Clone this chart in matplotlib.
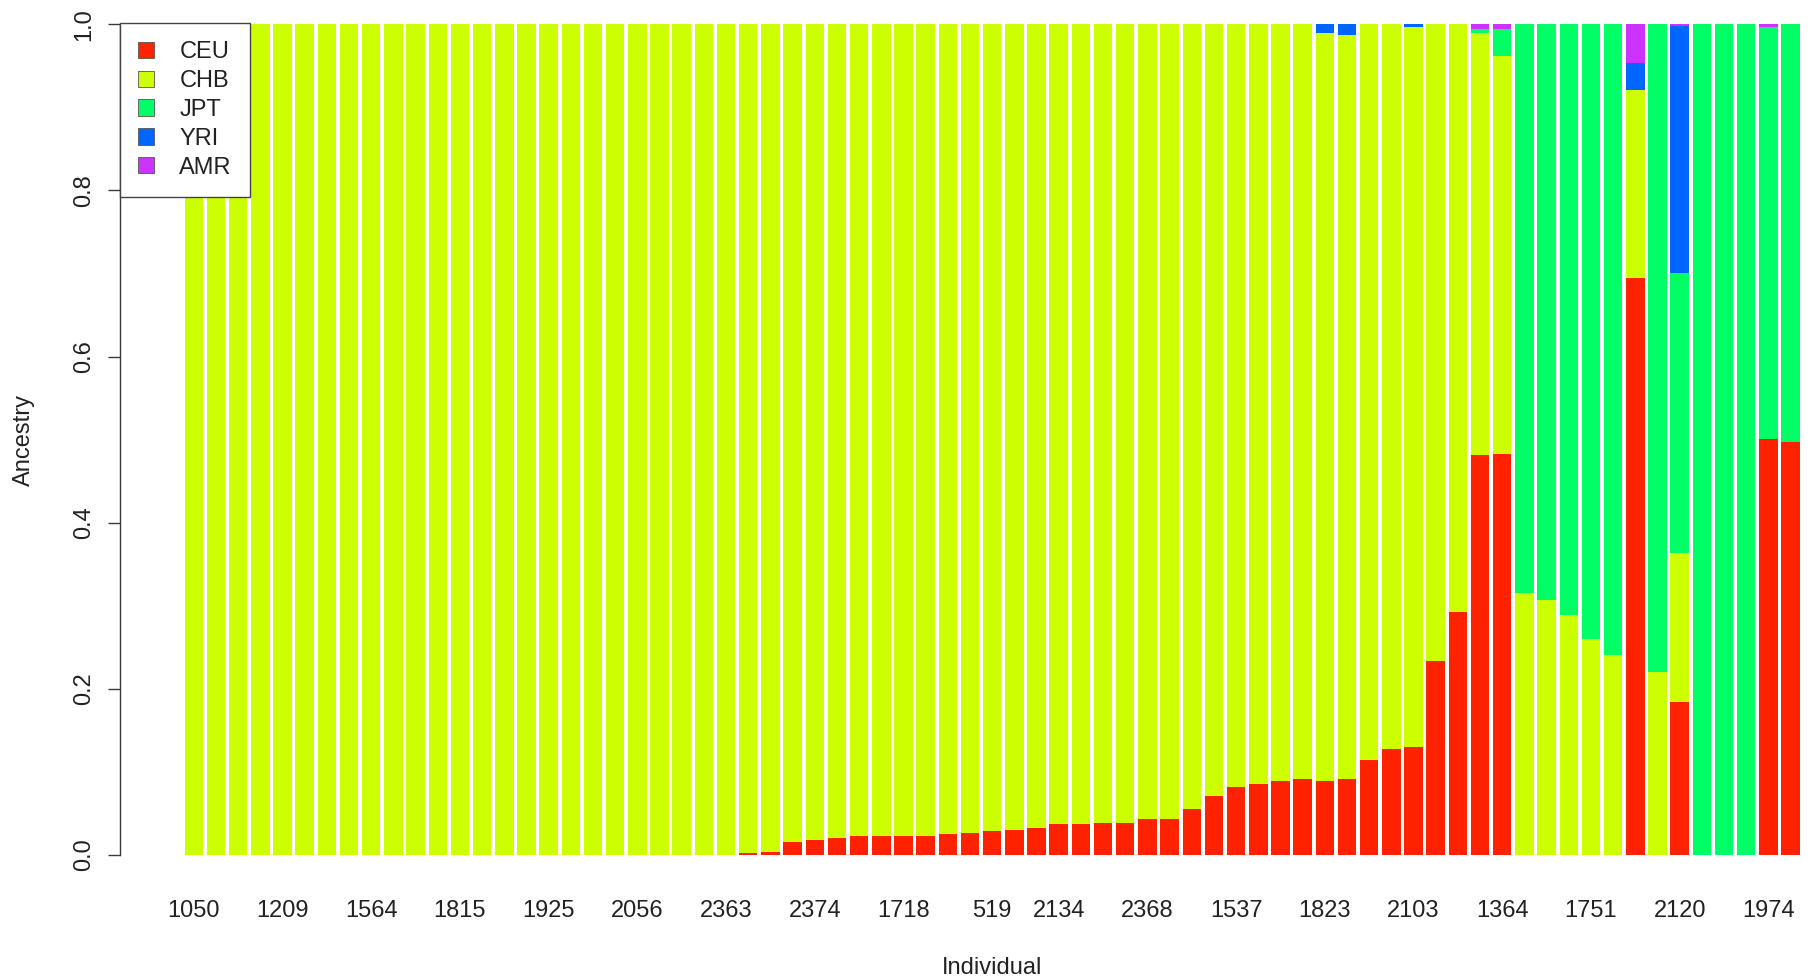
import matplotlib
matplotlib.use("Agg")
import matplotlib.pyplot as plt
from matplotlib.patches import Patch
import numpy as np

plt.rcParams["font.family"] = ["Liberation Sans", "DejaVu Sans"]

# Admixture proportions per individual (73 individuals, sorted as in the run)
# Only the IDs that fit on the axis are printed; the rest stay blank.
individuals = [
    "1050", "", "", "", "1209", "", "", "", "1564", "",
    "", "", "1815", "", "", "", "1925", "", "", "",
    "2056", "", "", "", "2363", "", "", "", "2374", "",
    "", "", "1718", "", "", "", "519", "", "", "2134",
    "", "", "", "2368", "", "", "", "1537", "", "",
    "", "1823", "", "", "", "2103", "", "", "", "1364",
    "", "", "", "1751", "", "", "", "2120", "", "",
    "", "1974", "",
]

ceu = [
    0, 0, 0, 0, 0, 0, 0, 0, 0, 0,
    0, 0, 0, 0, 0, 0, 0, 0, 0, 0,
    0, 0, 0, 0, 0, 0.002, 0.004, 0.016, 0.018, 0.021,
    0.023, 0.023, 0.023, 0.023, 0.025, 0.027, 0.029, 0.030, 0.032, 0.037,
    0.037, 0.039, 0.039, 0.043, 0.043, 0.055, 0.071, 0.082, 0.085, 0.089,
    0.092, 0.089, 0.092, 0.114, 0.128, 0.130, 0.233, 0.292, 0.481, 0.483,
    0, 0, 0, 0, 0, 0.695, 0, 0.184, 0, 0,
    0, 0.501, 0.497,
]

chb = [
    1, 1, 1, 1, 1, 1, 1, 1, 1, 1,
    1, 1, 1, 1, 1, 1, 1, 1, 1, 1,
    1, 1, 1, 1, 1, 0.998, 0.996, 0.984, 0.982, 0.979,
    0.977, 0.977, 0.977, 0.977, 0.975, 0.973, 0.971, 0.970, 0.968, 0.963,
    0.963, 0.961, 0.961, 0.957, 0.957, 0.945, 0.929, 0.918, 0.915, 0.911,
    0.908, 0.901, 0.895, 0.886, 0.872, 0.867, 0.767, 0.708, 0.509, 0.479,
    0.315, 0.307, 0.289, 0.260, 0.241, 0.226, 0.220, 0.180, 0, 0,
    0, 0, 0,
]

jpt = [
    0, 0, 0, 0, 0, 0, 0, 0, 0, 0,
    0, 0, 0, 0, 0, 0, 0, 0, 0, 0,
    0, 0, 0, 0, 0, 0, 0, 0, 0, 0,
    0, 0, 0, 0, 0, 0, 0, 0, 0, 0,
    0, 0, 0, 0, 0, 0, 0, 0, 0, 0,
    0, 0, 0, 0, 0, 0, 0, 0, 0.004, 0.032,
    0.685, 0.693, 0.711, 0.740, 0.759, 0, 0.780, 0.336, 1, 1,
    1, 0.496, 0.503,
]

yri = [
    0, 0, 0, 0, 0, 0, 0, 0, 0, 0,
    0, 0, 0, 0, 0, 0, 0, 0, 0, 0,
    0, 0, 0, 0, 0, 0, 0, 0, 0, 0,
    0, 0, 0, 0, 0, 0, 0, 0, 0, 0,
    0, 0, 0, 0, 0, 0, 0, 0, 0, 0,
    0, 0.010, 0.013, 0, 0, 0.003, 0, 0, 0, 0,
    0, 0, 0, 0, 0, 0.032, 0, 0.298, 0, 0,
    0, 0, 0,
]

amr = [
    0, 0, 0, 0, 0, 0, 0, 0, 0, 0,
    0, 0, 0, 0, 0, 0, 0, 0, 0, 0,
    0, 0, 0, 0, 0, 0, 0, 0, 0, 0,
    0, 0, 0, 0, 0, 0, 0, 0, 0, 0,
    0, 0, 0, 0, 0, 0, 0, 0, 0, 0,
    0, 0, 0, 0, 0, 0, 0, 0, 0.006, 0.006,
    0, 0, 0, 0, 0, 0.047, 0, 0.002, 0, 0,
    0, 0.003, 0,
]

populations = ["CEU", "CHB", "JPT", "YRI", "AMR"]
pop_colors = ["#FF2200", "#CCFF00", "#00FF66", "#0066FF", "#CC33FF"]

components = np.array([ceu, chb, jpt, yri, amr], dtype=float)
n = components.shape[1]

# barplot geometry: unit-wide bars separated by 0.2
space = 0.2
x = space + 0.5 + (1 + space) * np.arange(n)

W, H = 1814, 976
fig = plt.figure(figsize=(W / 100, H / 100), dpi=100)

# plot region (pixels) — extends slightly past the canvas on top/right
px_left, px_bottom = 120.0, 888.2
px_per_x = 18.48
px_per_y = 830.7
x_lo, x_hi = space, (1 + space) * n
xr = x_hi - x_lo
ax_w = 1.08 * xr * px_per_x
ax_h = 1.08 * px_per_y
ax = fig.add_axes([px_left / W, (H - px_bottom) / H, ax_w / W, ax_h / H])

bottom = np.zeros(n)
for vals, col in zip(components, pop_colors):
    ax.bar(x, vals, width=1.0, bottom=bottom, color=col, edgecolor="none",
           linewidth=0)
    bottom += vals

ax.set_xlim(x_lo - 0.04 * xr, x_hi + 0.04 * xr)
ax.set_ylim(-0.04, 1.04)

# axes styling
for side in ("top", "right", "bottom"):
    ax.spines[side].set_visible(False)
ax.spines["left"].set_bounds(0, 1)
ax.spines["left"].set_color("#3a3a3a")
ax.spines["left"].set_linewidth(1.0)

yt = [0.0, 0.2, 0.4, 0.6, 0.8, 1.0]
ax.set_yticks(yt)
ax.set_yticklabels([f"{v:.1f}" for v in yt], rotation=90, va="center",
                   ha="right")
ax.tick_params(axis="y", length=9, width=1.0, color="#3a3a3a", pad=9,
               labelsize=17, labelcolor="#222222")

labelled = [i for i, s in enumerate(individuals) if s]
ax.set_xticks(x[labelled])
ax.set_xticklabels([individuals[i] for i in labelled])
ax.tick_params(axis="x", length=0, pad=8.3, labelsize=17,
               labelcolor="#222222")

ax.set_xlabel("Individual", fontsize=17, color="#222222")
ax.xaxis.label.set_va("baseline")
ax.xaxis.set_label_coords(0.5, (px_bottom - 974.5) / ax_h)

ax.set_ylabel("Ancestry", fontsize=17, color="#222222")
ax.yaxis.label.set_rotation_mode("anchor")
ax.yaxis.label.set_va("baseline")
ax.yaxis.label.set_ha("center")
ax.yaxis.set_label_coords((29.5 - px_left) / ax_w, 0.5)

handles = [Patch(facecolor=c, edgecolor="#555555", linewidth=0.6)
           for c in pop_colors]
leg = ax.legend(handles, populations, loc="upper left",
                bbox_to_anchor=(px_left / W, (H - 23) / H),
                bbox_transform=fig.transFigure, fontsize=17,
                frameon=True, fancybox=False, framealpha=1.0,
                borderaxespad=0, borderpad=0.77, labelspacing=0.29,
                handlelength=0.68, handleheight=0.68, handletextpad=1.06)
leg.get_frame().set_edgecolor("#444444")
leg.get_frame().set_linewidth(1.0)
for t in leg.get_texts():
    t.set_color("#222222")

fig.savefig("out.png", dpi=100)
